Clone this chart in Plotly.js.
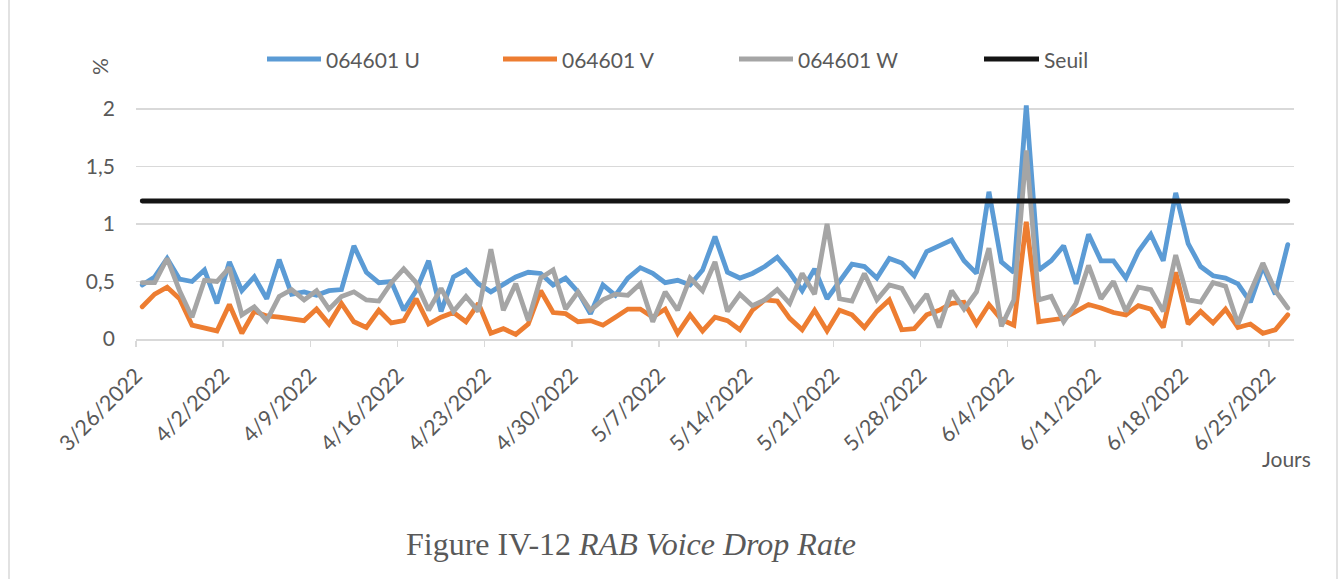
<!DOCTYPE html>
<html>
<head>
<meta charset="utf-8">
<script src="https://cdn.plot.ly/plotly-3.0.1.min.js"></script>
<style>
  html, body { margin: 0; padding: 0; background: #ffffff; }
  #chart { width: 1343px; height: 579px; }
  #chart .scatterlayer path.js-line { stroke-linecap: round; }
</style>
</head>
<body>
<div id="chart"></div>
<script>
// ---- categories (days) ----
const days = [
  '2022-03-26','2022-03-27','2022-03-28','2022-03-29','2022-03-30','2022-03-31',
  '2022-04-01','2022-04-02','2022-04-03','2022-04-04','2022-04-05','2022-04-06','2022-04-07','2022-04-08','2022-04-09','2022-04-10',
  '2022-04-11','2022-04-12','2022-04-13','2022-04-14','2022-04-15','2022-04-16','2022-04-17','2022-04-18','2022-04-19','2022-04-20',
  '2022-04-21','2022-04-22','2022-04-23','2022-04-24','2022-04-25','2022-04-26','2022-04-27','2022-04-28','2022-04-29','2022-04-30',
  '2022-05-01','2022-05-02','2022-05-03','2022-05-04','2022-05-05','2022-05-06','2022-05-07','2022-05-08','2022-05-09','2022-05-10',
  '2022-05-11','2022-05-12','2022-05-13','2022-05-14','2022-05-15','2022-05-16','2022-05-17','2022-05-18','2022-05-19','2022-05-20',
  '2022-05-21','2022-05-22','2022-05-23','2022-05-24','2022-05-25','2022-05-26','2022-05-27','2022-05-28','2022-05-29','2022-05-30','2022-05-31',
  '2022-06-01','2022-06-02','2022-06-03','2022-06-04','2022-06-05','2022-06-06','2022-06-07','2022-06-08','2022-06-09','2022-06-10',
  '2022-06-11','2022-06-12','2022-06-13','2022-06-14','2022-06-15','2022-06-16','2022-06-17','2022-06-18','2022-06-19','2022-06-20',
  '2022-06-21','2022-06-22','2022-06-23','2022-06-24','2022-06-25','2022-06-26'
];

// ---- series values (%) ----
const seriesU = [
  0.47,0.54,0.70,0.52,0.50,0.60,0.31,0.67,0.42,0.54,0.35,0.69,0.39,0.41,0.38,0.42,0.43,0.81,0.58,0.49,0.50,0.25,0.42,0.68,
  0.24,0.54,0.60,0.48,0.41,0.48,0.54,0.58,0.57,0.47,0.53,0.41,0.22,0.47,0.38,0.53,0.62,0.57,0.49,0.51,0.47,0.60,0.89,
  0.58,0.53,0.57,0.63,0.71,0.58,0.42,0.61,0.35,0.50,0.65,0.63,0.53,0.70,0.66,0.55,0.76,0.81,0.86,0.68,0.57,1.28,0.67,
  0.58,2.03,0.60,0.68,0.81,0.48,0.91,0.68,0.68,0.53,0.76,0.91,0.68,1.27,0.83,0.63,0.55,0.53,0.48,0.32,0.63,0.39,0.82
];
const seriesV = [
  0.28,0.39,0.45,0.35,0.12,0.10,0.07,0.30,0.05,0.24,0.20,0.19,0.18,0.16,0.26,0.13,0.31,0.15,0.10,0.25,0.14,0.16,0.35,0.13,
  0.19,0.23,0.15,0.31,0.05,0.09,0.04,0.13,0.42,0.23,0.22,0.15,0.16,0.12,0.19,0.26,0.26,0.19,0.26,0.05,0.21,0.07,0.19,
  0.16,0.08,0.25,0.34,0.33,0.18,0.08,0.25,0.07,0.25,0.21,0.10,0.24,0.34,0.08,0.09,0.21,0.25,0.31,0.32,0.13,0.30,0.17,
  0.12,1.02,0.15,0.16,0.18,0.24,0.30,0.27,0.23,0.21,0.29,0.26,0.10,0.58,0.13,0.24,0.14,0.26,0.10,0.13,0.05,0.08,0.21
];
const seriesW = [
  0.49,0.49,0.70,0.42,0.19,0.51,0.50,0.62,0.21,0.28,0.16,0.37,0.43,0.34,0.42,0.26,0.37,0.41,0.34,0.33,0.49,0.61,0.49,0.25,
  0.44,0.24,0.37,0.24,0.78,0.25,0.48,0.16,0.53,0.60,0.26,0.41,0.25,0.34,0.39,0.38,0.48,0.15,0.41,0.25,0.53,0.42,0.67,
  0.24,0.39,0.29,0.34,0.43,0.31,0.57,0.39,1.00,0.35,0.33,0.57,0.34,0.47,0.44,0.25,0.39,0.10,0.42,0.26,0.41,0.79,0.11,
  0.34,1.64,0.34,0.37,0.15,0.31,0.64,0.35,0.50,0.24,0.45,0.43,0.24,0.73,0.34,0.32,0.49,0.46,0.13,0.41,0.66,0.42,0.27
];
const seuil = 1.2;

// ---- names & tick labels ----
const seriesNames = ['064601 U', '064601 V', '064601 W', 'Seuil'];
const tickDates = ['2022-03-26','2022-04-02','2022-04-09','2022-04-16','2022-04-23','2022-04-30','2022-05-07',
                   '2022-05-14','2022-05-21','2022-05-28','2022-06-04','2022-06-11','2022-06-18','2022-06-25'];
const tickLabels = ['3/26/2022','4/2/2022','4/9/2022','4/16/2022','4/23/2022','4/30/2022','5/7/2022',
                    '5/14/2022','5/21/2022','5/28/2022','6/4/2022','6/11/2022','6/18/2022','6/25/2022'];
const yTickVals = [0, 0.5, 1, 1.5, 2];
const yTickText = ['0', '0,5', '1', '1,5', '2'];
const xAxisRange = ['2022-03-26', '2022-06-27'];

// ---- styling ----
const colors = ['#5b9bd5', '#ed7d31', '#a5a5a5', '#141414'];
const W = 1343, H = 579;
const M = { l: 136, r: 49, t: 103, b: 240 };
const plotW = W - M.l - M.r, plotH = H - M.t - M.b;
const px2x = p => (p - M.l) / plotW;
const px2y = p => (H - M.b - p) / plotH;
const yMax = 2.052;
const txtFont = { family: 'Lato, "Open Sans", sans-serif', size: 21, color: '#595959' };
const lineW = 4.8;

// points sit in the middle of each day slot (Excel "between tick marks")
const xs = days.map(d => d + ' 12:00');

const traces = [seriesU, seriesV, seriesW].map((vals, i) => ({
  type: 'scatter', mode: 'lines', name: seriesNames[i],
  x: xs, y: vals,
  line: { color: colors[i], width: lineW, shape: 'linear' },
  showlegend: false, hoverinfo: 'x+y'
}));
traces.push({
  type: 'scatter', mode: 'lines', name: seriesNames[3],
  x: [xs[0], xs[xs.length - 1]], y: [seuil, seuil],
  line: { color: colors[3], width: lineW },
  showlegend: false
});

// manual legend (Excel-like spacing)
const legendItems = [
  { x0: 267, x1: 321, tx: 324 },
  { x0: 503, x1: 557, tx: 560 },
  { x0: 739, x1: 793, tx: 796 },
  { x0: 984, x1: 1039, tx: 1042 }
];
const legendY = 59;
const shapes = [];
const annotations = [];
legendItems.forEach((it, i) => {
  shapes.push({ type: 'line', xref: 'paper', yref: 'paper',
    x0: px2x(it.x0), x1: px2x(it.x1), y0: px2y(legendY), y1: px2y(legendY),
    line: { color: colors[i], width: lineW } });
  annotations.push({ xref: 'paper', yref: 'paper', x: px2x(it.tx), y: px2y(legendY),
    xanchor: 'left', yanchor: 'middle', showarrow: false, text: seriesNames[i], font: txtFont });
});
// chart border (left & right visible)
[9, 1337].forEach(p => shapes.push({ type: 'line', xref: 'paper', yref: 'paper',
  x0: px2x(p), x1: px2x(p), y0: px2y(0), y1: px2y(H), line: { color: '#d9d9d9', width: 1.5 } }));

annotations.push({ xref: 'paper', yref: 'paper', x: px2x(99), y: px2y(67), xanchor: 'center', yanchor: 'middle',
  showarrow: false, text: '%', textangle: -90, font: txtFont });
annotations.push({ xref: 'paper', yref: 'paper', x: px2x(1286), y: px2y(458), xanchor: 'center', yanchor: 'middle',
  showarrow: false, text: 'Jours', font: txtFont });
annotations.push({ xref: 'paper', yref: 'paper', x: px2x(631), y: px2y(544), xanchor: 'center', yanchor: 'middle',
  showarrow: false, text: 'Figure IV-12 <i>RAB Voice Drop Rate</i>',
  font: { family: '"Liberation Serif", "Times New Roman", serif', size: 32, color: '#595959' } });

const layout = {
  width: W, height: H,
  margin: M,
  paper_bgcolor: '#ffffff', plot_bgcolor: '#ffffff',
  showlegend: false,
  xaxis: {
    type: 'date', range: xAxisRange,
    tickmode: 'array', tickvals: tickDates, ticktext: tickLabels,
    tickangle: -45, tickfont: Object.assign({}, txtFont, { size: 21.5 }),
    ticklabelstandoff: 8,
    showgrid: false, zeroline: false,
    showline: true, linecolor: '#d9d9d9', linewidth: 1.5,
    ticks: 'outside', ticklen: 6, tickwidth: 1.5, tickcolor: '#d9d9d9'
  },
  yaxis: {
    range: [0, yMax],
    tickmode: 'array', tickvals: yTickVals, ticktext: yTickText,
    tickfont: txtFont, ticklabelstandoff: 20,
    showgrid: true, gridcolor: '#d9d9d9', gridwidth: 1.5,
    zeroline: false, showline: false, ticks: ''
  },
  shapes: shapes,
  annotations: annotations
};

Plotly.newPlot('chart', traces, layout, { displayModeBar: false, staticPlot: true });
</script>
</body>
</html>
